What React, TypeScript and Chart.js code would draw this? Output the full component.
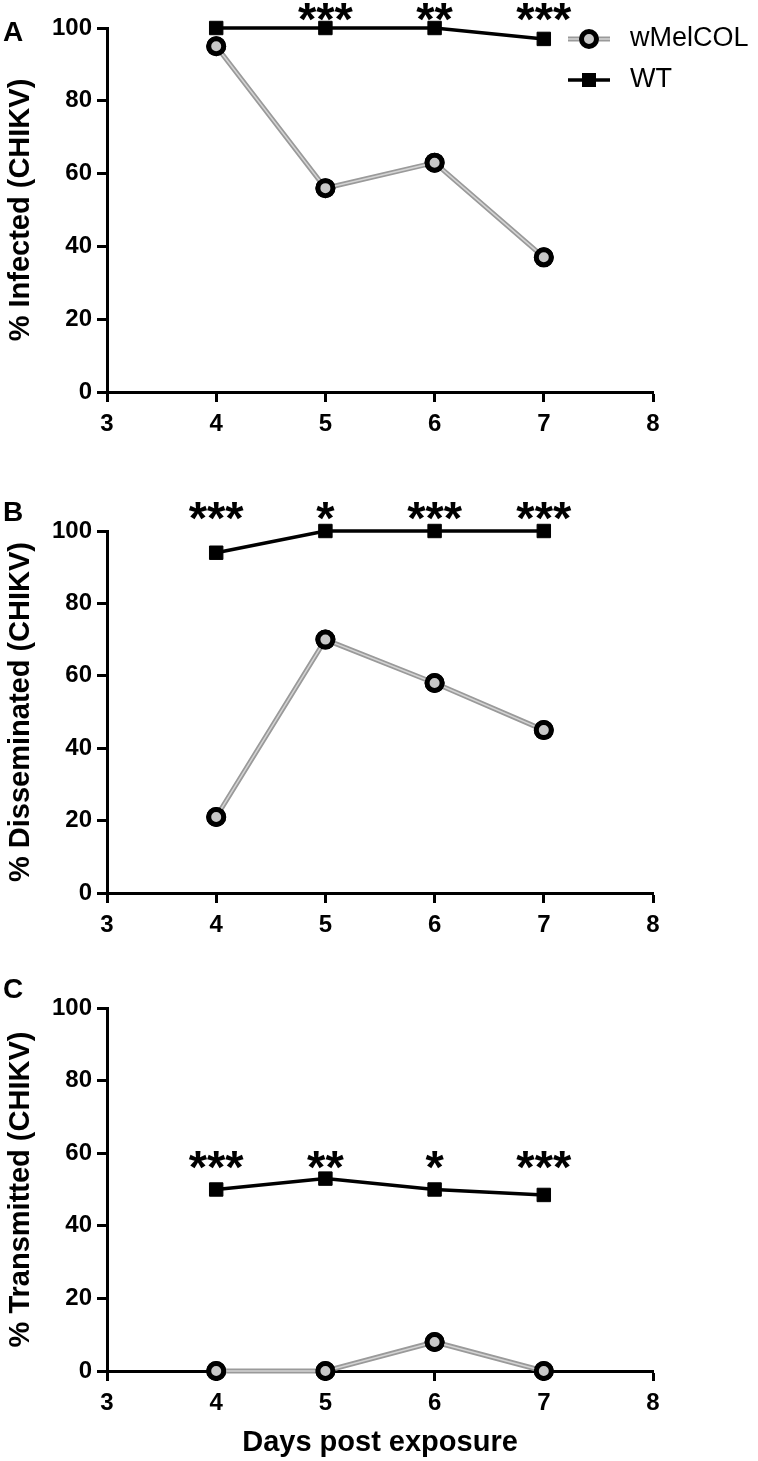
import React, { useEffect, useRef } from "react";
import { Chart, registerables } from "chart.js";

Chart.register(...registerables);

// ---------- data ----------
const days = [4, 5, 6, 7];
const xTickValues = [3, 4, 5, 6, 7, 8];
const yTickValues = [0, 20, 40, 60, 80, 100];
const seriesNames = ["wMelCOL", "WT"];

const infectedWMel = [95, 56, 63, 37];
const infectedWT = [100, 100, 100, 97];
const infectedStars = ["", "***", "**", "***"];
const infectedStarLevel = 104.5;

const dissWMel = [21, 70, 58, 45];
const dissWT = [94, 100, 100, 100];
const dissStars = ["***", "*", "***", "***"];
const dissStarLevel = 105.5;

const transWMel = [0, 0, 8, 0];
const transWT = [50, 53, 50, 48.5];
const transStars = ["***", "**", "*", "***"];
const transStarLevel = 58;

const panelLetters = ["A", "B", "C"];
const yTitles = ["% Infected (CHIKV)", "% Disseminated (CHIKV)", "% Transmitted (CHIKV)"];
const xTitle = "Days post exposure";

// ---------- styles / layout ----------
const FONT = '"Liberation Sans", Arial, Helvetica, sans-serif';
const W = 758;
const AREA_LEFT = 107;
const AREA_RIGHT = 653;
const GRAY = "#9a9a9a";
const STRIPE = "#d4d4d4";

type PanelLayout = {
  top: number;
  height: number;
  areaTop: number;
  areaBottom: number;
  letterY: number;
  showLegend: boolean;
  showXTitle: boolean;
};

const layouts: PanelLayout[] = [
  { top: 0, height: 470, areaTop: 28, areaBottom: 392, letterY: 33, showLegend: true, showXTitle: false },
  { top: 470, height: 480, areaTop: 61, areaBottom: 423, letterY: 43, showLegend: false, showXTitle: false },
  { top: 950, height: 511, areaTop: 58, areaBottom: 421, letterY: 40, showLegend: false, showXTitle: true },
];

const panelData = [
  { wmel: infectedWMel, wt: infectedWT, stars: infectedStars, starLevel: infectedStarLevel },
  { wmel: dissWMel, wt: dissWT, stars: dissStars, starLevel: dissStarLevel },
  { wmel: transWMel, wt: transWT, stars: transStars, starLevel: transStarLevel },
];

function drawCircleMarker(ctx: CanvasRenderingContext2D, x: number, y: number) {
  ctx.save();
  ctx.beginPath();
  ctx.arc(x, y, 7.5, 0, Math.PI * 2);
  ctx.fillStyle = "#c8c8c8";
  ctx.fill();
  ctx.lineWidth = 5;
  ctx.strokeStyle = "#000";
  ctx.stroke();
  ctx.restore();
}

function Panel({ idx }: { idx: number }) {
  const ref = useRef<HTMLCanvasElement | null>(null);
  const lay = layouts[idx];
  const pd = panelData[idx];

  useEffect(() => {
    if (!ref.current) return;
    const tickFont = { family: FONT, size: 24, weight: "bold" as const };

    const overlay = {
      id: "overlay" + idx,
      afterDatasetDraw(chart: any, args: any) {
        if (args.index !== 0) return;
        const ctx: CanvasRenderingContext2D = chart.ctx;
        const pts = args.meta.data;
        ctx.save();
        ctx.strokeStyle = STRIPE;
        ctx.lineWidth = 1.5;
        ctx.beginPath();
        pts.forEach((p: any, i: number) => {
          if (i === 0) ctx.moveTo(p.x, p.y);
          else ctx.lineTo(p.x, p.y);
        });
        ctx.stroke();
        ctx.restore();
        pts.forEach((p: any) => p.draw(ctx, chart.chartArea));
      },
      afterDraw(chart: any) {
        const ctx: CanvasRenderingContext2D = chart.ctx;
        const xs = chart.scales.x;
        const ys = chart.scales.y;
        ctx.save();
        ctx.fillStyle = "#000";
        // panel letter
        ctx.font = `bold 28px ${FONT}`;
        ctx.textAlign = "left";
        ctx.textBaseline = "middle";
        ctx.fillText(panelLetters[idx], 3, lay.letterY);
        // significance stars
        ctx.font = `bold 47px ${FONT}`;
        ctx.textAlign = "center";
        ctx.textBaseline = "alphabetic";
        const m = ctx.measureText("*");
        const asc = m.actualBoundingBoxAscent;
        const desc = m.actualBoundingBoxDescent;
        const cy = ys.getPixelForValue(pd.starLevel);
        pd.stars.forEach((s, i) => {
          if (!s) return;
          const x = xs.getPixelForValue(days[i]);
          ctx.fillText(s, x, cy + (asc - desc) / 2);
        });
        // legend
        if (lay.showLegend) {
          const lx = 589;
          const ly1 = 39;
          const ly2 = 80;
          ctx.lineCap = "butt";
          ctx.strokeStyle = GRAY;
          ctx.lineWidth = 5;
          ctx.beginPath();
          ctx.moveTo(568, ly1);
          ctx.lineTo(610, ly1);
          ctx.stroke();
          ctx.strokeStyle = STRIPE;
          ctx.lineWidth = 1.5;
          ctx.beginPath();
          ctx.moveTo(568, ly1);
          ctx.lineTo(610, ly1);
          ctx.stroke();
          drawCircleMarker(ctx, lx, ly1);
          ctx.strokeStyle = "#000";
          ctx.lineWidth = 3.5;
          ctx.beginPath();
          ctx.moveTo(568, ly2);
          ctx.lineTo(610, ly2);
          ctx.stroke();
          ctx.fillStyle = "#000";
          ctx.fillRect(lx - 7, ly2 - 7, 14, 14);
          ctx.font = `27px ${FONT}`;
          ctx.textAlign = "left";
          ctx.textBaseline = "middle";
          ctx.fillText(seriesNames[0], 630, ly1);
          ctx.fillText(seriesNames[1], 630, ly2);
        }
        ctx.restore();
      },
    };

    const chart = new Chart(ref.current, {
      type: "line",
      data: {
        datasets: [
          {
            label: seriesNames[0],
            data: days.map((d, i) => ({ x: d, y: pd.wmel[i] })),
            borderColor: GRAY,
            borderWidth: 5,
            pointStyle: "circle",
            pointRadius: 7.5,
            pointBorderWidth: 5,
            pointBorderColor: "#000",
            pointBackgroundColor: "#c8c8c8",
            clip: false,
          } as any,
          {
            label: seriesNames[1],
            data: days.map((d, i) => ({ x: d, y: pd.wt[i] })),
            borderColor: "#000",
            borderWidth: 3.5,
            pointStyle: "rect",
            pointRadius: 9.5,
            pointBorderWidth: 1,
            pointBorderColor: "#000",
            pointBackgroundColor: "#000",
            clip: false,
          } as any,
        ],
      },
      options: {
        animation: false,
        responsive: false,
        devicePixelRatio: 1,
        layout: { padding: { top: lay.areaTop, right: W - AREA_RIGHT, left: 0, bottom: 0 } },
        plugins: { legend: { display: false }, tooltip: { enabled: false } },
        scales: {
          x: {
            type: "linear",
            min: 3,
            max: 8,
            afterBuildTicks: (s: any) => {
              s.ticks = xTickValues.map((v) => ({ value: v }));
            },
            afterFit: (s: any) => {
              s.height = lay.height - lay.areaBottom;
            },
            ticks: { font: tickFont, color: "#000", padding: 8, maxRotation: 0, autoSkip: false },
            grid: { display: true, drawOnChartArea: false, drawTicks: true, tickLength: 10, tickWidth: 3, tickColor: "#000" },
            border: { display: true, color: "#000", width: 3 },
            title: {
              display: lay.showXTitle,
              text: xTitle,
              color: "#000",
              font: { family: FONT, size: 29, weight: "bold" },
              padding: { top: 0, bottom: 1 },
            },
          },
          y: {
            min: 0,
            max: 100,
            afterBuildTicks: (s: any) => {
              s.ticks = yTickValues.map((v) => ({ value: v }));
            },
            afterFit: (s: any) => {
              s.width = AREA_LEFT;
            },
            ticks: { font: tickFont, color: "#000", padding: 5 },
            grid: { display: true, drawOnChartArea: false, drawTicks: true, tickLength: 10, tickWidth: 3, tickColor: "#000" },
            border: { display: true, color: "#000", width: 3 },
            title: {
              display: true,
              text: yTitles[idx],
              color: "#000",
              font: { family: FONT, size: 29, weight: "bold" },
              padding: { top: 4, bottom: 4 },
            },
          },
        },
      } as any,
      plugins: [overlay],
    });
    return () => chart.destroy();
  }, [idx]);

  return (
    <canvas
      ref={ref}
      width={W}
      height={lay.height}
      style={{ position: "absolute", left: 0, top: lay.top, width: W, height: lay.height, display: "block" }}
    />
  );
}

export default function App() {
  return (
    <div style={{ position: "absolute", left: 0, top: 0, width: W, height: 1461, background: "#fff" }}>
      <Panel idx={0} />
      <Panel idx={1} />
      <Panel idx={2} />
    </div>
  );
}
